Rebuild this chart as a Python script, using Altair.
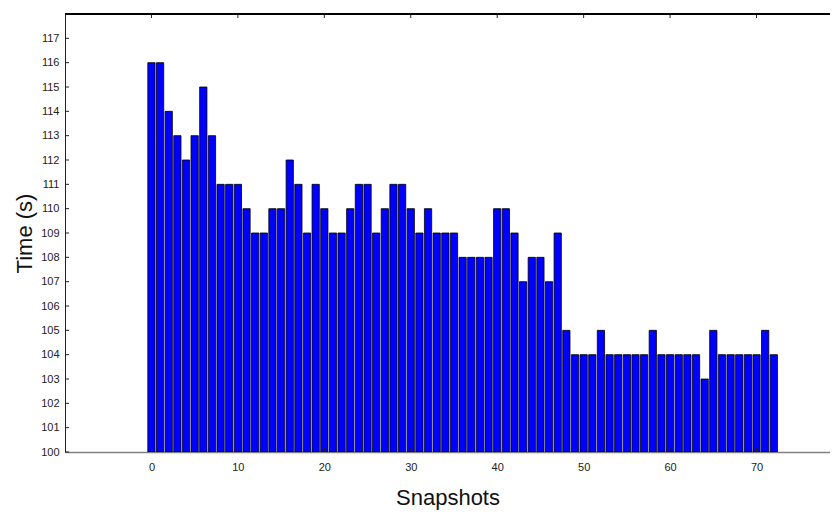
import altair as alt
import pandas as pd

snapshots = list(range(73))
times = [116, 116, 114, 113, 112, 113, 115, 113, 111, 111,
         111, 110, 109, 109, 110, 110, 112, 111, 109, 111,
         110, 109, 109, 110, 111, 111, 109, 110, 111, 111,
         110, 109, 110, 109, 109, 109, 108, 108, 108, 108,
         110, 110, 109, 107, 108, 108, 107, 109, 105, 104,
         104, 104, 105, 104, 104, 104, 104, 104, 105, 104,
         104, 104, 104, 104, 103, 105, 104, 104, 104, 104,
         104, 105, 104]
y_ticks = list(range(100, 118))
x_ticks = list(range(0, 80, 10))

W, H = 765, 438
FONT = "Liberation Sans"

bars_df = pd.DataFrame({"snap": snapshots, "val": times})
ytick_df = pd.DataFrame({"val": y_ticks})
xtick_df = pd.DataFrame({"snap": x_ticks})

xscale = alt.Scale(domain=[-10, 78.5], nice=False, zero=False)
yscale = alt.Scale(domain=[100, 118], nice=False, zero=False)

xaxis = alt.Axis(values=x_ticks, title="Snapshots", grid=False, tickSize=0,
                 labelPadding=9, labelFontSize=11, labelColor="#222222",
                 labelFont=FONT, titleFont=FONT, titleFontSize=22,
                 titleFontWeight="normal", titleColor="#111111", titlePadding=15,
                 domainColor="#808080", domainWidth=1.5, labelFlush=False)
yaxis = alt.Axis(values=y_ticks, title="Time (s)", grid=False, tickSize=0,
                 labelPadding=6, labelFontSize=11, labelColor="#222222",
                 labelFont=FONT, titleFont=FONT, titleFontSize=22,
                 titleFontWeight="normal", titleColor="#111111", titlePadding=4,
                 domainColor="#222222", domainWidth=1, labelFlush=False)

bars = alt.Chart(bars_df).transform_calculate(
    lo="datum.snap - 0.42", hi="datum.snap + 0.42", base="100"
).mark_bar(color="#0000FF", stroke="#000000", strokeWidth=0.8, clip=True).encode(
    x=alt.X("lo:Q", scale=xscale, axis=xaxis),
    x2="hi:Q",
    y=alt.Y("val:Q", scale=yscale, axis=yaxis),
    y2="base:Q",
)

yt = alt.Chart(ytick_df).mark_rule(color="#222222", strokeWidth=1).encode(
    y=alt.Y("val:Q", scale=yscale, axis=yaxis),
    x=alt.value(0), x2=alt.value(4),
)

xt_bottom = alt.Chart(xtick_df).transform_calculate(lo="datum.snap").mark_rule(
    color="#222222", strokeWidth=1).encode(
    x=alt.X("lo:Q", scale=xscale, axis=xaxis),
    y=alt.value(H), y2=alt.value(H - 4),
)

xt_top = alt.Chart(xtick_df).transform_calculate(lo="datum.snap").mark_rule(
    color="#222222", strokeWidth=1).encode(
    x=alt.X("lo:Q", scale=xscale, axis=xaxis),
    y=alt.value(0), y2=alt.value(4),
)

top_border = alt.Chart(bars_df).mark_rule(color="#000000", strokeWidth=1.2).encode(
    x=alt.value(0), x2=alt.value(W), y=alt.value(0)
)

chart = alt.layer(bars, yt, xt_bottom, xt_top, top_border).properties(
    width=W, height=H,
    autosize=alt.AutoSizeParams(type="none"),
    padding={"left": 57, "top": 6, "right": 0, "bottom": 60},
).configure_view(strokeWidth=0).configure(background="white")

chart.save("out.html", embed_options={"renderer": "svg", "actions": False})
